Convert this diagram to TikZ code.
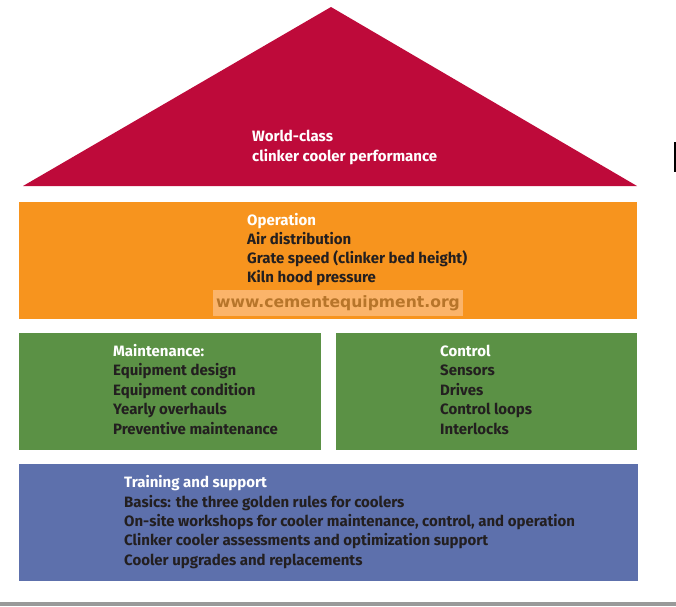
\documentclass[tikz,border=0pt]{standalone}
\usepackage{fontspec}
\setmainfont{Fira Sans}
\newfontfamily\wmfont{DejaVu Sans}
\definecolor{roofred}{HTML}{BE0A3A}
\definecolor{oporange}{HTML}{F7941E}
\definecolor{mtgreen}{HTML}{5B9145}
\definecolor{trblue}{HTML}{5D70AC}
\definecolor{textdark}{HTML}{231F20}
\definecolor{wmbg}{HTML}{FBB46A}
\definecolor{wmtext}{HTML}{B7752A}
\tikzset{
  txt/.style={anchor=base west, inner sep=0pt, text=textdark,
    font=\bfseries\fontsize{15}{17}\selectfont},
  head/.style={txt, text=white},
  wm/.style={fill=wmbg, inner sep=0pt, minimum width=250pt, minimum height=26pt,
    text=wmtext, font=\wmfont\bfseries\fontsize{15.6}{16}\selectfont}
}
\begin{document}
\begin{tikzpicture}[x=1pt, y=-1pt]
    \useasboundingbox (0,0) rectangle (676,606);
    \coordinate (apex) at (331,7); \coordinate (bl) at (23,186); \coordinate (br) at (637,186);
    \fill[roofred] (bl)--(apex)--(br)--cycle; % Roof
    \fill[oporange] (19,202) rectangle (637,319);
    \fill[mtgreen] (19,333) rectangle (321,450);
    \fill[mtgreen] (336,333) rectangle (637,450);
    \fill[trblue] (19,464) rectangle (638,581);
    \fill[black!40] (0,602) rectangle (676,606); % base line
    \fill[black] (674,142) rectangle (676,172);
    % roof text
    \node[head] (roof1) at (252,141) {World-class};
    \node[head] (roof2) at (252,161) {clinker cooler performance};
    % operation
    \node[head] (op0) at (247,225) {Operation};
    \foreach \t [count=\i] in {Air distribution, Grate speed (clinker bed height), Kiln hood pressure}
        \node[txt] (op\i) at (247,{225+19.3*\i}) {\t};
    \node[wm] (wm) at (338,303) {www.cementequipment.org};
    % maintenance and control
    \node[head] (mt0) at (113,356.5) {Maintenance:};
    \foreach \t [count=\i] in {Equipment design, Equipment condition, Yearly overhauls, Preventive maintenance}
        \node[txt] (mt\i) at (113,{356.5+19.4*\i}) {\t};
    \node[head] (ct0) at (440,356.5) {Control};
    \foreach \t [count=\i] in {Sensors, Drives, Control loops, Interlocks}
        \node[txt] (ct\i) at (440,{356.5+19.4*\i}) {\t};
    % training
    \node[head] (tr0) at (124,487.7) {Training and support};
    \foreach \t [count=\i] in {Basics: the three golden rules for coolers,
        {On-site workshops for cooler maintenance, control, and operation},
        Clinker cooler assessments and optimization support, Cooler upgrades and replacements}
        \node[txt] (tr\i) at (124,{487.7+19.4*\i}) {\t};
\end{tikzpicture}
\end{document}
